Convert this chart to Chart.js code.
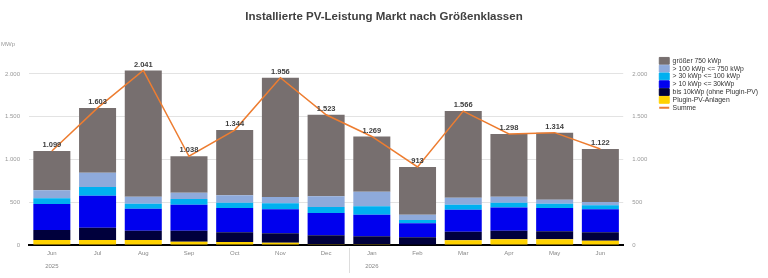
<!DOCTYPE html>
<html>
<head>
<meta charset="utf-8">
<script src="https://cdn.jsdelivr.net/npm/chart.js@4"></script>
<style>
  html, body { margin: 0; padding: 0; background: #fff; }
  canvas { display: block; }
</style>
</head>
<body>
<canvas id="chart" width="768" height="278"></canvas>
<script>
// Monate (Jun 2025 - Jun 2026)
const monate = [['Jun', '2025'], 'Jul', 'Aug', 'Sep', 'Oct', 'Nov', 'Dec', ['Jan', '2026'], 'Feb', 'Mar', 'Apr', 'May', 'Jun'];

// Werte in MWp je Größenklasse
const pluginPV   = [58, 58, 58, 39, 35, 25, 8, 8, 6, 55, 66, 66, 51];
const bis10      = [117, 145, 110, 129, 113, 111, 105, 93, 84, 101, 102, 94, 97];
const kw10bis30  = [305, 374, 257, 304, 285, 281, 261, 254, 163, 257, 272, 273, 269];
const kw30bis100 = [66, 101, 58, 66, 62, 70, 70, 97, 39, 59, 55, 50, 47];
const kw100bis750 = [94, 168, 82, 74, 86, 74, 125, 172, 63, 82, 70, 47, 39];
const groesser750 = [459, 757, 1476, 426, 763, 1395, 954, 645, 558, 1012, 733, 784, 619];
const summe      = [1099, 1603, 2041, 1038, 1344, 1956, 1523, 1269, 913, 1566, 1298, 1314, 1122];

const yTicks = [0, 500, 1000, 1500, 2000];

const fontFam = 'Arial, "Liberation Sans", sans-serif';

function fmt(v) {
    return String(Math.round(v)).replace(/\B(?=(\d{3})+(?!\d))/g, '.');
}

function nurTicks(scale) {
    scale.ticks = yTicks.map(v => ({ value: v }));
}

const extras = {
    id: 'extras',
    afterDatasetsDraw(chart) {
        const ctx = chart.ctx;
        const meta = chart.getDatasetMeta(6);
        ctx.save();
        ctx.font = 'bold 7.5px ' + fontFam;
        ctx.fillStyle = '#404040';
        ctx.textAlign = 'center';
        ctx.textBaseline = 'middle';
        meta.data.forEach((pt, i) => {
            ctx.fillText(fmt(summe[i]), pt.x, pt.y - 6);
        });
        ctx.restore();
    },
    afterDraw(chart) {
        const ctx = chart.ctx;
        const x = chart.scales.x;
        const area = chart.chartArea;
        ctx.save();
        // Trennlinie zwischen den Jahren
        const sep = (x.getPixelForValue(6) + x.getPixelForValue(7)) / 2;
        ctx.strokeStyle = '#dddddd';
        ctx.lineWidth = 1;
        ctx.beginPath();
        ctx.moveTo(Math.round(sep) + 0.5, area.bottom + 3);
        ctx.lineTo(Math.round(sep) + 0.5, area.bottom + 28);
        ctx.stroke();
        // Einheit
        ctx.font = '6px ' + fontFam;
        ctx.fillStyle = '#999';
        ctx.textAlign = 'left';
        ctx.textBaseline = 'middle';
        ctx.fillText('MWp', 1, 44);
        ctx.restore();
    }
};

const ctx = document.getElementById('chart');

new Chart(ctx, {
    type: 'bar',
    data: {
        labels: monate,
        datasets: [
            { label: 'Plugin-PV-Anlagen', data: pluginPV, backgroundColor: '#ffd200', pointStyle: 'rect' },
            { label: 'bis 10kWp (ohne Plugin-PV)', data: bis10, backgroundColor: '#00003c', pointStyle: 'rect' },
            { label: '> 10 kWp <= 30kWp', data: kw10bis30, backgroundColor: '#0000ee', pointStyle: 'rect' },
            { label: '> 30 kWp <= 100 kWp', data: kw30bis100, backgroundColor: '#00b0f0', pointStyle: 'rect' },
            { label: '> 100 kWp <= 750 kWp', data: kw100bis750, backgroundColor: '#8eaadb', pointStyle: 'rect' },
            { label: 'größer 750 kWp', data: groesser750, backgroundColor: '#776f6f', pointStyle: 'rect' },
            {
                label: 'Summe',
                type: 'line',
                data: summe,
                yAxisID: 'y2',
                borderColor: '#ed7d31',
                backgroundColor: '#ed7d31',
                borderWidth: 1.5,
                pointRadius: 0,
                tension: 0,
                order: -1,
                pointStyle: 'line'
            }
        ]
    },
    options: {
        responsive: false,
        animation: false,
        layout: { padding: { left: 0, right: 0, top: 0, bottom: 0 } },
        datasets: {
            bar: { barPercentage: 0.81, categoryPercentage: 1, borderWidth: 0 }
        },
        scales: {
            x: {
                stacked: true,
                grid: { display: false, drawTicks: false },
                border: { color: '#000', width: 2 },
                ticks: {
                    color: '#888',
                    font: { family: fontFam, size: 6, lineHeight: 2.1 },
                    padding: 2,
                    maxRotation: 0,
                    autoSkip: false
                },
                afterFit(scale) { scale.height = 33; }
            },
            y: {
                stacked: true,
                min: 0,
                max: 2250,
                afterBuildTicks: nurTicks,
                grid: { color: '#e3e3e3', drawTicks: false },
                border: { display: false },
                ticks: {
                    color: '#999',
                    font: { family: fontFam, size: 6 },
                    padding: 9,
                    callback: v => fmt(v)
                },
                afterFit(scale) { scale.width = 29; }
            },
            y2: {
                position: 'right',
                min: 0,
                max: 2250,
                afterBuildTicks: nurTicks,
                grid: { display: false, drawTicks: false },
                border: { display: false },
                ticks: {
                    color: '#999',
                    font: { family: fontFam, size: 6 },
                    padding: 9,
                    callback: v => fmt(v)
                },
                afterFit(scale) { scale.width = 35; }
            }
        },
        plugins: {
            title: {
                display: true,
                text: 'Installierte PV-Leistung Markt nach Größenklassen',
                color: '#404040',
                font: { family: fontFam, size: 11.5, weight: 'bold', lineHeight: 1.2 },
                padding: { top: 10, bottom: 28.8 }
            },
            legend: {
                position: 'right',
                align: 'start',
                fullSize: false,
                title: { display: true, text: ' ', font: { size: 3.5, lineHeight: 1.1 }, padding: 0 },
                labels: {
                    usePointStyle: true,
                    pointStyleWidth: 10,
                    boxHeight: 6.8,
                    padding: 1,
                    color: '#333',
                    font: { family: fontFam, size: 6.8 },
                    generateLabels(chart) {
                        const items = Chart.defaults.plugins.legend.labels.generateLabels(chart);
                        items.forEach(it => {
                            if (it.datasetIndex !== 6) {
                                it.lineWidth = 1;
                                it.strokeStyle = it.fillStyle;
                            } else {
                                it.lineWidth = 2;
                            }
                        });
                        return items;
                    },
                    sort: (a, b) => {
                        const k = it => it.datasetIndex === 6 ? 99 : -it.datasetIndex;
                        return k(a) - k(b);
                    }
                }
            },
            tooltip: { enabled: false }
        }
    },
    plugins: [extras]
});
</script>
</body>
</html>
